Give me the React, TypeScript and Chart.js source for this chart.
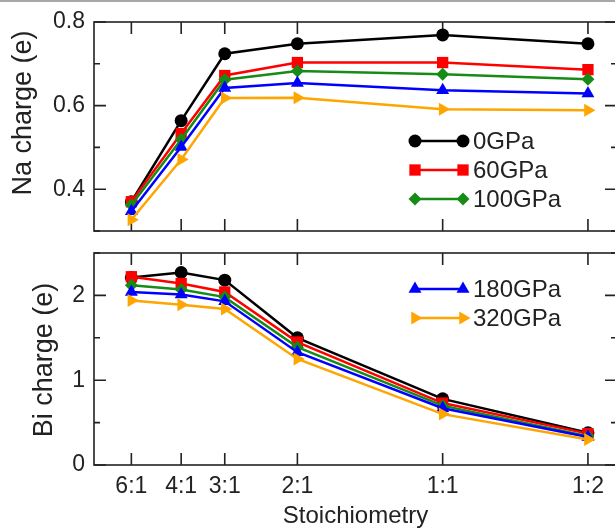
import React, { useEffect, useRef } from 'react';
import { Chart, registerables } from 'chart.js';
import { drawPoint } from 'chart.js/helpers';

Chart.register(...registerables);

// ---------- data ----------
const stoichLabels = ['6:1', '4:1', '3:1', '2:1', '1:1', '1:2'];
// Bi fraction Bi/(Na+Bi) for each stoichiometry (x position)
const biFraction = [1 / 7, 1 / 5, 1 / 4, 1 / 3, 1 / 2, 2 / 3];
const seriesNames = ['0GPa', '60GPa', '100GPa', '180GPa', '320GPa'];

const naCharge0 = [0.370, 0.564, 0.724, 0.748, 0.769, 0.748];
const naCharge60 = [0.370, 0.533, 0.672, 0.703, 0.703, 0.686];
const naCharge100 = [0.362, 0.519, 0.662, 0.683, 0.675, 0.663];
const naCharge180 = [0.347, 0.501, 0.642, 0.654, 0.637, 0.629];
const naCharge320 = [0.327, 0.471, 0.618, 0.619, 0.591, 0.589];

const biCharge0 = [2.21, 2.27, 2.18, 1.50, 0.78, 0.38];
const biCharge60 = [2.22, 2.14, 2.04, 1.45, 0.73, 0.37];
const biCharge100 = [2.12, 2.07, 1.98, 1.39, 0.70, 0.34];
const biCharge180 = [2.04, 2.01, 1.93, 1.33, 0.67, 0.33];
const biCharge320 = [1.94, 1.89, 1.84, 1.25, 0.60, 0.30];

const naTickValues = [0.3, 0.4, 0.5, 0.6, 0.7, 0.8];
const naTickLabels = ['', '0.4', '', '0.6', '', '0.8'];
const biTickValues = [0, 0.5, 1, 1.5, 2, 2.5];
const biTickLabels = ['0', '', '1', '', '2', ''];

const naSeries = [naCharge0, naCharge60, naCharge100, naCharge180, naCharge320];
const biSeries = [biCharge0, biCharge60, biCharge100, biCharge180, biCharge320];

// ---------- styles ----------
const FONT = 'Arial, "Liberation Sans", sans-serif';
const TEXT = '#222222';
const seriesStyles = [
  { color: '#000000', pointStyle: 'circle', rotation: 0, radius: 6.5 },
  { color: '#ff0000', pointStyle: 'rect', rotation: 0, radius: 8 },
  { color: '#168c16', pointStyle: 'rectRot', rotation: 0, radius: 6.5 },
  { color: '#0000ff', pointStyle: 'triangle', rotation: 0, radius: 7.5 },
  { color: '#ffa500', pointStyle: 'triangle', rotation: 90, radius: 7.5 },
];

const framePlugin = {
  id: 'frame',
  beforeDatasetsDraw(chart: any) {
    const { ctx, chartArea } = chart;
    const { left, right, top, bottom } = chartArea;
    const xs = chart.scales.x;
    const ys = chart.scales.y;
    ctx.save();
    ctx.strokeStyle = TEXT;
    ctx.lineWidth = 1.6;
    ctx.strokeRect(left, top, right - left, bottom - top);
    ctx.beginPath();
    for (const v of biFraction) {
      const px = xs.getPixelForValue(v);
      ctx.moveTo(px, top);
      ctx.lineTo(px, top + 12);
      ctx.moveTo(px, bottom);
      ctx.lineTo(px, bottom - 12);
    }
    ys.ticks.forEach((t: any, i: number) => {
      const py = ys.getPixelForValue(t.value);
      const len = (ys.options.ticks.callback as any)(t.value, i) ? 12 : 6;
      ctx.moveTo(left, py);
      ctx.lineTo(left + len, py);
      ctx.moveTo(right, py);
      ctx.lineTo(right - len, py);
    });
    ctx.stroke();
    ctx.restore();
  },
};

const yTitlePlugin = {
  id: 'yTitle',
  afterDraw(chart: any, _args: any, opts: any) {
    if (!opts || !opts.text) return;
    const { ctx } = chart;
    ctx.save();
    ctx.translate(opts.x, opts.y);
    ctx.rotate(-Math.PI / 2);
    ctx.fillStyle = TEXT;
    ctx.font = `${opts.size}px ${FONT}`;
    ctx.textAlign = 'center';
    ctx.textBaseline = 'middle';
    ctx.fillText(opts.text, 0, 0);
    ctx.restore();
  },
};

const legendPlugin = {
  id: 'lineLegend',
  afterDatasetsDraw(chart: any, _args: any, opts: any) {
    const { ctx } = chart;
    const items = (opts && opts.items) || [];
    ctx.save();
    for (const it of items) {
      const st = seriesStyles[it.index];
      ctx.strokeStyle = st.color;
      ctx.fillStyle = st.color;
      ctx.lineWidth = 2.5;
      ctx.beginPath();
      ctx.moveTo(it.x, it.y);
      ctx.lineTo(it.x + 48, it.y);
      ctx.stroke();
      for (const px of [it.x, it.x + 48]) {
        drawPoint(ctx, { pointStyle: st.pointStyle as any, rotation: st.rotation, radius: st.radius, borderWidth: 0 }, px, it.y);
      }
      ctx.fillStyle = TEXT;
      ctx.font = `24px ${FONT}`;
      ctx.textAlign = 'left';
      ctx.textBaseline = 'middle';
      ctx.fillText(seriesNames[it.index], it.x + 58, it.y + 1);
    }
    ctx.restore();
  },
};

function makeDatasets(series: number[][]) {
  return series.map((vals, i) => {
    const st = seriesStyles[i];
    return {
      label: seriesNames[i],
      data: vals.map((v, j) => ({ x: biFraction[j], y: v })),
      borderColor: st.color,
      backgroundColor: st.color,
      borderWidth: 2.5,
      pointStyle: st.pointStyle,
      rotation: st.rotation,
      pointRadius: st.radius,
      pointBorderWidth: 0,
      pointBackgroundColor: st.color,
      order: series.length - i,
      tension: 0,
    };
  });
}

function buildConfig(kind: 'na' | 'bi'): any {
  const isNa = kind === 'na';
  const tickValues = isNa ? naTickValues : biTickValues;
  const tickLabels = isNa ? naTickLabels : biTickLabels;
  return {
    type: 'line',
    data: { datasets: makeDatasets(isNa ? naSeries : biSeries) },
    plugins: [framePlugin, legendPlugin, yTitlePlugin],
    options: {
      responsive: false,
      animation: false,
      layout: { padding: isNa ? { top: 22, bottom: 9, left: 0, right: 5 } : { top: 13, bottom: 0, left: 0, right: 5 } },
      plugins: {
        legend: { display: false },
        tooltip: { enabled: false },
        yTitle: isNa
          ? { text: 'Na charge (e)', x: 24, y: 113, size: 27 }
          : { text: 'Bi charge (e)', x: 45, y: 120, size: 27 },
        lineLegend: {
          items: isNa
            ? [
                { index: 0, x: 415, y: 141 },
                { index: 1, x: 415, y: 170 },
                { index: 2, x: 415, y: 199 },
              ]
            : [
                { index: 3, x: 415, y: 49 },
                { index: 4, x: 415, y: 78 },
              ],
        },
      },
      scales: {
        x: {
          type: 'linear',
          min: 0.1,
          max: 0.7,
          display: !isNa,
          grid: { display: false, drawTicks: false },
          border: { display: false },
          afterBuildTicks: (s: any) => {
            s.ticks = biFraction.map((v) => ({ value: v }));
          },
          afterFit: (s: any) => {
            s.height = isNa ? 0 : 64;
            s.paddingLeft = 0;
            s.paddingRight = 0;
          },
          ticks: {
            autoSkip: false,
            maxRotation: 0,
            padding: 8,
            color: TEXT,
            font: { family: FONT, size: 23 },
            callback: (_v: any, i: number) => stoichLabels[i],
          },
          title: {
            display: !isNa,
            text: 'Stoichiometry',
            color: TEXT,
            font: { family: FONT, size: 24 },
            padding: { top: 0, bottom: -2 },
          },
        },
        y: {
          type: 'linear',
          min: isNa ? 0.3 : 0,
          max: isNa ? 0.8 : 2.5,
          grid: { display: false, drawTicks: false },
          border: { display: false },
          afterBuildTicks: (s: any) => {
            s.ticks = tickValues.map((v) => ({ value: v }));
          },
          afterFit: (s: any) => {
            s.width = 94;
            s.paddingTop = 0;
            s.paddingBottom = 0;
          },
          ticks: {
            autoSkip: false,
            padding: 9,
            color: TEXT,
            font: { family: FONT, size: 23 },
            callback: (_v: any, i: number) => tickLabels[i],
          },
          title: { display: false },
        },
      },
    },
  };
}

function Panel({ kind, top, height }: { kind: 'na' | 'bi'; top: number; height: number }) {
  const ref = useRef<HTMLCanvasElement | null>(null);
  useEffect(() => {
    if (!ref.current) return;
    const chart = new Chart(ref.current, buildConfig(kind));
    return () => chart.destroy();
  }, [kind]);
  return (
    <canvas
      ref={ref}
      width={625}
      height={height}
      style={{ position: 'absolute', left: 0, top, width: 625, height }}
    />
  );
}

export default function App() {
  return (
    <div
      style={{
        position: 'absolute',
        left: 0,
        top: 0,
        width: 615,
        height: 529,
        overflow: 'hidden',
        background: '#ffffff',
      }}
    >
      <Panel kind="na" top={0} height={240} />
      <Panel kind="bi" top={240} height={289} />
      <div style={{ position: 'absolute', left: 0, top: 0, width: 615, height: 2, background: '#a8a8a8' }} />
    </div>
  );
}
